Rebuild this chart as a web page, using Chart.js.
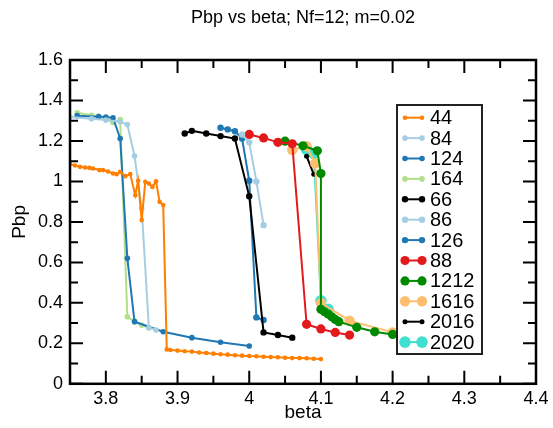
<!DOCTYPE html>
<html>
<head>
<meta charset="utf-8">
<script src="https://cdn.jsdelivr.net/npm/chart.js@4.4.1/dist/chart.umd.min.js"></script>
<style>
    html, body { margin: 0; padding: 0; background: #fff; }
    #wrap { width: 553px; height: 428px; }
</style>
</head>
<body>
<div id="wrap"><canvas id="chart" width="553" height="428"></canvas></div>
<script>
// Axis ticks
const xTicks = [3.8, 3.9, 4.0, 4.1, 4.2, 4.3, 4.4];
const xTickLabels = ["3.8", "3.9", "4", "4.1", "4.2", "4.3", "4.4"];
const xMinorTicks = [3.85, 3.95, 4.05, 4.15, 4.25, 4.35];
const yTicks = [0, 0.2, 0.4, 0.6, 0.8, 1.0, 1.2, 1.4, 1.6];
const yTickLabels = ["0", "0.2", "0.4", "0.6", "0.8", "1", "1.2", "1.4", "1.6"];
const yMinorTicks = [0.1, 0.3, 0.5, 0.7, 0.9, 1.1, 1.3, 1.5];

// Series (beta, Pbp)
const beta44 = [3.750, 3.757, 3.764, 3.771, 3.777, 3.782, 3.791, 3.796, 3.803, 3.810, 3.815, 3.820,
    3.827, 3.834, 3.841, 3.845, 3.850, 3.855, 3.860, 3.865, 3.870, 3.875, 3.880,
    3.885, 3.890, 3.90, 3.91, 3.92, 3.93, 3.94, 3.95, 3.96, 3.97, 3.98, 3.99, 4.00,
    4.01, 4.02, 4.03, 4.04, 4.05, 4.06, 4.07, 4.08, 4.09, 4.10];
const pbp44 = [1.085, 1.079, 1.072, 1.069, 1.067, 1.064, 1.056, 1.056, 1.049, 1.039, 1.036, 1.047,
    1.026, 1.036, 0.932, 1.003, 0.809, 0.998, 0.990, 0.973, 1.001, 0.899, 0.883,
    0.170, 0.167, 0.164, 0.161, 0.159, 0.155, 0.152, 0.149, 0.146, 0.144, 0.141, 0.139, 0.137,
    0.136, 0.134, 0.132, 0.131, 0.129, 0.127, 0.127, 0.126, 0.124, 0.122];

const beta84 = [3.75, 3.78, 3.80, 3.82, 3.83, 3.84, 3.85, 3.86, 3.87];
const pbp84 = [1.318, 1.310, 1.303, 1.295, 1.281, 1.126, 0.867, 0.277, 0.266];

const beta124 = [3.76, 3.79, 3.80, 3.81, 3.82, 3.83, 3.84, 3.88, 3.92, 3.96, 4.00];
const pbp124 = [1.325, 1.320, 1.318, 1.314, 1.212, 0.620, 0.307, 0.257, 0.228, 0.205, 0.187];

const beta164 = [3.76, 3.78, 3.79, 3.80, 3.81, 3.82, 3.83, 3.84, 3.85, 3.86];
const pbp164 = [1.339, 1.327, 1.322, 1.311, 1.291, 1.306, 0.331, 0.310, 0.290, 0.277];

const beta66 = [3.91, 3.92, 3.94, 3.96, 3.98, 4.00, 4.02, 4.04, 4.06];
const pbp66 = [1.237, 1.250, 1.237, 1.224, 1.212, 0.927, 0.254, 0.241, 0.228];

const beta86 = [3.99, 4.00, 4.01, 4.02];
const pbp86 = [1.232, 1.193, 1.000, 0.784];

const beta126 = [3.96, 3.97, 3.98, 3.99, 4.00, 4.01, 4.02];
const pbp126 = [1.265, 1.257, 1.248, 1.212, 1.003, 0.328, 0.315];

const beta88 = [4.00, 4.02, 4.04, 4.06, 4.08, 4.10, 4.12, 4.14];
const pbp88 = [1.232, 1.215, 1.193, 1.186, 0.294, 0.271, 0.254, 0.241];

const beta1212 = [4.05, 4.075, 4.095, 4.10, 4.10, 4.105, 4.11, 4.115, 4.12, 4.125, 4.15, 4.175, 4.20];
const pbp1212 = [1.199, 1.176, 1.151, 1.039, 0.368, 0.356, 0.345, 0.331, 0.318, 0.307, 0.279, 0.257, 0.244];

const beta1616 = [4.06, 4.08, 4.092, 4.10, 4.14, 4.20];
const pbp1616 = [1.155, 1.174, 1.089, 0.400, 0.312, 0.254];

const beta2016 = [4.08, 4.09];
const pbp2016 = [1.125, 1.035];

const beta2020 = [4.08, 4.09, 4.10, 4.11];
const pbp2020 = [1.158, 1.138, 0.410, 0.368];

const FONT = '"Liberation Sans", Arial, Helvetica, sans-serif';
Chart.defaults.font.family = FONT;
Chart.defaults.color = "#000";

function series(label, betas, values, color, radius) {
    return {
        label: label,
        data: betas.map((b, i) => ({ x: b, y: values[i] })),
        showLine: true,
        borderColor: color,
        backgroundColor: color,
        borderWidth: 2,
        pointRadius: radius,
        pointBorderWidth: 0,
        pointHoverRadius: radius,
        tension: 0,
    };
}

const datasets = [
    series("44", beta44, pbp44, "#ff7f00", 2.3),
    series("84", beta84, pbp84, "#a6cee3", 2.8),
    series("124", beta124, pbp124, "#1f78b4", 2.8),
    series("164", beta164, pbp164, "#b2df8a", 2.8),
    series("66", beta66, pbp66, "#000000", 3.2),
    series("86", beta86, pbp86, "#a6cee3", 3.2),
    series("126", beta126, pbp126, "#1f78b4", 3.2),
    series("88", beta88, pbp88, "#e31a1c", 4.6),
    series("1212", beta1212, pbp1212, "#008a00", 4.6),
    series("1616", beta1616, pbp1616, "#fdbf6f", 5.2),
    series("2016", beta2016, pbp2016, "#000000", 2.5),
    series("2020", beta2020, pbp2020, "#40e0d0", 5.8),
];

// Frame with inward ticks on all four sides, plus the title
const framePlugin = {
    id: "frame",
    afterDatasetsDraw(chart) {
        const { ctx, chartArea: a, scales: { x, y } } = chart;
        ctx.save();
        ctx.strokeStyle = "#000";
        ctx.lineWidth = 2;
        const tickX = (v, len) => {
            const px = x.getPixelForValue(v);
            ctx.beginPath();
            ctx.moveTo(px, a.bottom); ctx.lineTo(px, a.bottom - len);
            ctx.moveTo(px, a.top); ctx.lineTo(px, a.top + len);
            ctx.stroke();
        };
        const tickY = (v, len) => {
            const py = y.getPixelForValue(v);
            ctx.beginPath();
            ctx.moveTo(a.left, py); ctx.lineTo(a.left + len, py);
            ctx.moveTo(a.right, py); ctx.lineTo(a.right - len, py);
            ctx.stroke();
        };
        xTicks.forEach(v => tickX(v, 13));
        xMinorTicks.forEach(v => tickX(v, 8));
        yTicks.forEach(v => tickY(v, 13));
        yMinorTicks.forEach(v => tickY(v, 8));
        ctx.lineWidth = 2.5;
        ctx.strokeRect(a.left, a.top, a.right - a.left, a.bottom - a.top);

        ctx.fillStyle = "#000";
        ctx.font = "18px " + FONT;
        ctx.textAlign = "center";
        ctx.textBaseline = "middle";
        ctx.fillText("Pbp vs beta; Nf=12; m=0.02", (a.left + a.right) / 2, 18);
        ctx.restore();
    },
};

// Legend box inside the plot
const legendPlugin = {
    id: "boxLegend",
    afterDatasetsDraw(chart) {
        const { ctx } = chart;
        const left = 397, top = 105, width = 85, height = 249;
        const rowTop = 117.7, rowStep = 20.4;
        ctx.save();
        ctx.fillStyle = "#fff";
        ctx.fillRect(left, top, width, height);
        ctx.strokeStyle = "#222";
        ctx.lineWidth = 2;
        ctx.strokeRect(left, top, width, height);
        ctx.font = "20px " + FONT;
        ctx.textAlign = "left";
        ctx.textBaseline = "middle";
        chart.data.datasets.forEach((ds, i) => {
            const cy = rowTop + i * rowStep;
            ctx.strokeStyle = ds.borderColor;
            ctx.lineWidth = 2;
            ctx.beginPath();
            ctx.moveTo(405, cy);
            ctx.lineTo(422, cy);
            ctx.stroke();
            ctx.fillStyle = ds.backgroundColor;
            [405, 422].forEach(cx => {
                ctx.beginPath();
                ctx.arc(cx, cy, ds.pointRadius, 0, Math.PI * 2);
                ctx.fill();
            });
            ctx.fillStyle = "#000";
            ctx.fillText(ds.label, 430, cy + 1);
        });
        ctx.restore();
    },
};

new Chart(document.getElementById("chart"), {
    type: "scatter",
    data: { datasets },
    options: {
        responsive: false,
        animation: false,
        devicePixelRatio: 1,
        layout: { padding: { top: 60, right: 17, left: 0, bottom: 0 } },
        plugins: {
            legend: { display: false },
            tooltip: { enabled: false },
            title: { display: false },
        },
        scales: {
            x: {
                type: "linear",
                min: 3.75,
                max: 4.4,
                grid: { display: false, drawTicks: false },
                border: { display: false },
                afterBuildTicks: (s) => { s.ticks = xTicks.map(v => ({ value: v })); },
                afterFit: (s) => { s.height = 44.2; },
                ticks: {
                    padding: 4,
                    autoSkip: false,
                    maxRotation: 0,
                    font: { size: 18 },
                    callback: (v) => xTickLabels[xTicks.indexOf(v)],
                },
                title: { display: true, text: "beta", font: { size: 19 }, padding: { top: 0, bottom: 4 } },
            },
            y: {
                type: "linear",
                min: 0,
                max: 1.6,
                grid: { display: false, drawTicks: false },
                border: { display: false },
                afterBuildTicks: (s) => { s.ticks = yTicks.map(v => ({ value: v })); },
                afterFit: (s) => { s.width = 70; },
                ticks: {
                    padding: 7,
                    autoSkip: false,
                    font: { size: 18 },
                    callback: (v) => yTickLabels[yTicks.indexOf(v)],
                },
                title: { display: true, text: "Pbp", font: { size: 19 }, padding: { top: 8, bottom: 0 } },
            },
        },
    },
    plugins: [framePlugin, legendPlugin],
});
</script>
</body>
</html>
